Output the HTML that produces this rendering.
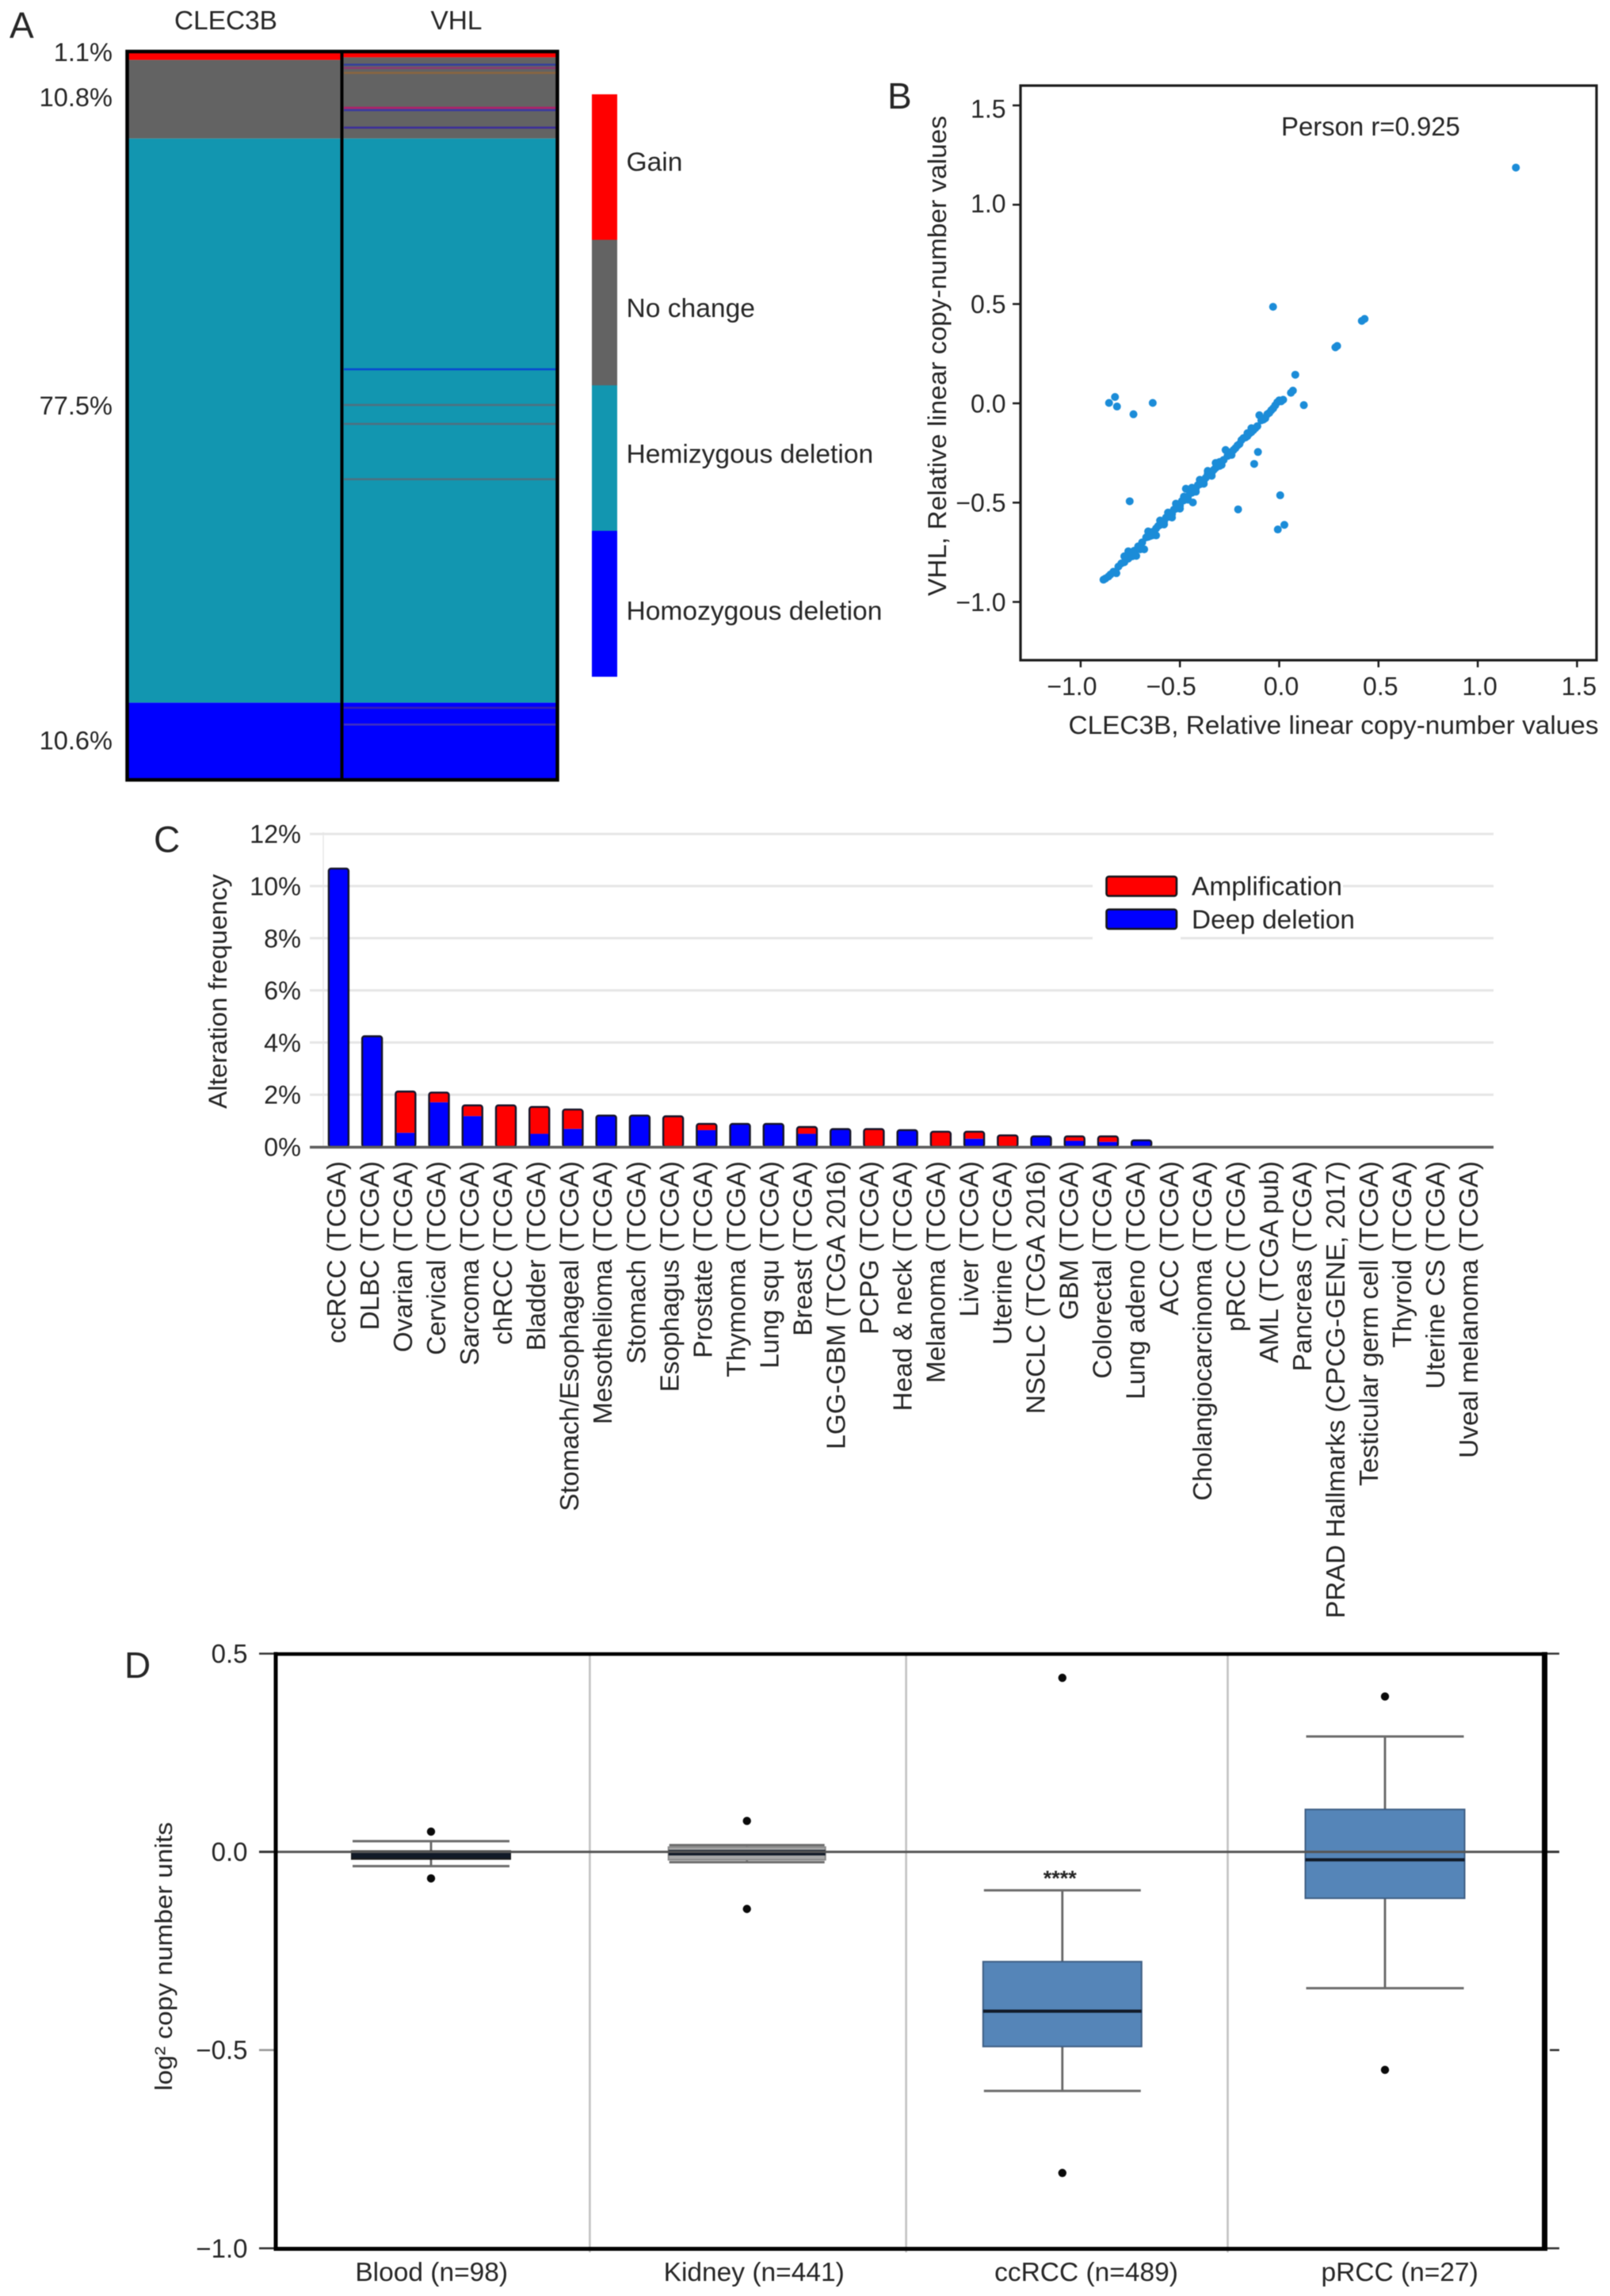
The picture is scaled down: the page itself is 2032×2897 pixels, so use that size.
<!DOCTYPE html>
<html lang="en">
<head>
<meta charset="utf-8">
<title>CLEC3B and VHL copy-number figure</title>
<style>
html,body{margin:0;padding:0;background:#fff;}
svg{display:block;filter:blur(0.6px);}
text{font-family:"Liberation Sans",Arial,sans-serif;fill:#262626;}
</style>
</head>
<body>
<svg id="figure" xmlns="http://www.w3.org/2000/svg" width="2032" height="2897" viewBox="0 0 2032 2897">
  <rect x="0" y="0" width="2032" height="2897" fill="#fff"/>
  <text x="12" y="48" font-size="46">A</text>
  <text x="1120" y="137" font-size="46">B</text>
  <text x="194" y="1075" font-size="46">C</text>
  <text x="157" y="2117" font-size="46">D</text>

  <g id="panel-a"></g>
  <g id="panel-b"></g>
  <g id="panel-c"></g>
  <g id="panel-d"></g>
</svg>

<script>
// ---------- Panel A data ----------
const stateLabels = ['Gain', 'No change', 'Hemizygous deletion', 'Homozygous deletion'];
const stateColors = ['#ff0000', '#636363', '#1296b0', '#0000ff'];
const clec3bPercent = [1.1, 10.8, 77.5, 10.6];
const vhlPercent = [0.75, 11.15, 77.5, 10.6];
const percentLabels = ['1.1%', '10.8%', '77.5%', '10.6%'];
const vhlDiscordantPercent = [1.76, 2.2, 2.88, 7.68, 8.0, 10.4, 43.6, 48.5, 51.1, 58.7, 90.1, 92.4];
const vhlDiscordantColors = ['#34409c', '#8a3a70', '#8a6540', '#b0206a', '#3a3aa0', '#3c2f9a', '#0a48d0', '#4f7080', '#4f7080', '#4f7080', '#3a20b0', '#4030c0'];

// ---------- Panel B data ----------
const xTicks = [-1.0, -0.5, 0.0, 0.5, 1.0, 1.5];
const yTicks = [-1.0, -0.5, 0.0, 0.5, 1.0, 1.5];
const clec3bValues = [-.885,-.875,-.86,-.85,-.835,-.82,-.81,-.795,-.78,-.77,-.76,-.745,-.73,-.72,-.71,-.70,-.69,-.68,-.67,-.66,-.65,-.64,-.63,-.62,-.61,-.60,-.59,-.58,-.57,-.56,-.55,-.54,-.53,-.52,-.51,-.50,-.49,-.48,-.47,-.46,-.45,-.44,-.43,-.42,-.41,-.40,-.39,-.38,-.37,-.36,-.35,-.34,-.33,-.32,-.31,-.30,-.29,-.28,-.27,-.26,-.25,-.24,-.23,-.22,-.21,-.20,-.19,-.18,-.17,-.16,-.15,-.14,-.13,-.12,-.11,-.10,-.09,-.08,-.07,-.06,-.05,-.04,-.03,-.02,-.01,0,.01,.02,
  -.66,-.64,-.62,-.60,-.58,-.56,-.54,-.52,-.50,-.48,-.46,-.44,-.42,-.40,-.38,-.36,-.34,-.32,-.30,-.26,-.24,-.16,-.14,-.74,-.76,-.78,
  1.192,-.031,.43,.416,.292,.283,.081,.069,.059,.124,-.857,-.827,-.817,-.734,-.637,-.107,-.126,-.753,-.435,-.207,.005,-.007,.026];
const vhlValues = [-.888,-.882,-.872,-.862,-.848,-.855,-.822,-.806,-.80,-.775,-.782,-.752,-.742,-.768,-.72,-.735,-.70,-.735,-.675,-.672,-.668,-.648,-.645,-.665,-.618,-.612,-.60,-.595,-.575,-.572,-.552,-.558,-.535,-.53,-.51,-.515,-.492,-.488,-.43,-.47,-.452,-.45,-.435,-.428,-.412,-.408,-.392,-.39,-.375,-.355,-.352,-.35,-.335,-.325,-.30,-.295,-.31,-.285,-.235,-.265,-.25,-.245,-.235,-.225,-.212,-.205,-.185,-.175,-.172,-.165,-.152,-.145,-.135,-.125,-.115,-.06,-.085,-.082,-.075,-.055,-.048,-.035,-.025,-.01,.005,.015,.01,.018,
  -.645,-.665,-.63,-.59,-.61,-.55,-.575,-.505,-.53,-.47,-.485,-.425,-.445,-.385,-.405,-.34,-.365,-.30,-.315,-.245,-.26,-.15,-.125,-.77,-.745,-.77,
  1.187,.486,.425,.415,.289,.282,.144,.064,.053,-.009,.002,.032,-.016,-.055,.002,-.245,-.305,-.493,-.499,-.534,-.463,-.635,-.612];

// ---------- Panel C data ----------
const cancerTypes = ['ccRCC (TCGA)','DLBC (TCGA)','Ovarian (TCGA)','Cervical (TCGA)','Sarcoma (TCGA)','chRCC (TCGA)','Bladder (TCGA)','Stomach/Esophageal (TCGA)','Mesothelioma (TCGA)','Stomach (TCGA)','Esophagus (TCGA)','Prostate (TCGA)','Thymoma (TCGA)','Lung squ (TCGA)','Breast (TCGA)','LGG-GBM (TCGA 2016)','PCPG (TCGA)','Head & neck (TCGA)','Melanoma (TCGA)','Liver (TCGA)','Uterine (TCGA)','NSCLC (TCGA 2016)','GBM (TCGA)','Colorectal (TCGA)','Lung adeno (TCGA)','ACC (TCGA)','Cholangiocarcinoma (TCGA)','pRCC (TCGA)','AML (TCGA pub)','Pancreas (TCGA)','PRAD Hallmarks (CPCG-GENE, 2017)','Testicular germ cell (TCGA)','Thyroid (TCGA)','Uterine CS (TCGA)','Uveal melanoma (TCGA)'];
const deepDeletion = [10.67,4.24,0.54,1.71,1.18,0,0.5,0.69,1.2,1.2,0,0.64,0.88,0.88,0.5,0.68,0,0.64,0,0.31,0,0.4,0.23,0.19,0.25,0,0,0,0,0,0,0,0,0,0];
const amplification = [0,0,1.58,0.37,0.41,1.59,1.03,0.74,0,0,1.17,0.24,0,0,0.26,0,0.68,0,0.58,0.27,0.44,0,0.17,0.21,0,0,0,0,0,0,0,0,0,0,0];
const frequencyTicks = [0, 2, 4, 6, 8, 10, 12];
const frequencyLegend = ['Amplification', 'Deep deletion'];

// ---------- Panel D data ----------
const boxCategories = ['Blood (n=98)', 'Kidney (n=441)', 'ccRCC (n=489)', 'pRCC (n=27)'];
const whiskerHigh = [0.027, 0.017, -0.097, 0.291];
const quartile3 = [0.002, 0.012, -0.277, 0.107];
const medians = [-0.008, -0.002, -0.402, -0.02];
const quartile1 = [-0.018, -0.02, -0.491, -0.117];
const whiskerLow = [-0.036, -0.026, -0.603, -0.344];
const outlierHigh = [0.051, 0.078, 0.439, 0.392];
const outlierLow = [-0.067, -0.144, -0.81, -0.55];
const boxTicks = [0.5, 0.0, -0.5, -1.0];
const significanceMarks = ['', '', '****', ''];

// ---------- Helpers ----------
const NS = 'http://www.w3.org/2000/svg';
function mk(parent, tag, attrs, content) {
  const el = document.createElementNS(NS, tag);
  for (const k in attrs) el.setAttribute(k, attrs[k]);
  if (content !== undefined) el.textContent = content;
  parent.appendChild(el);
  return el;
}
function fmtTick(v) {
  return (v < 0 ? '\u2212' : '') + Math.abs(v).toFixed(1);
}

// ---------- Panel A ----------
(function () {
  const g = document.getElementById('panel-a');
  const yA = p => 65.5 + p * 9.185;
  const columns = [
    { name: 'clec3b', label: 'CLEC3B', data: clec3bPercent, x0: 160, x1: 431, labelX: 285 },
    { name: 'vhl', label: 'VHL', data: vhlPercent, x0: 431, x1: 704, labelX: 576 }
  ];
  columns.forEach(col => {
    let cum = 0;
    col.data.forEach((v, i) => {
      const seg = mk(g, 'rect', { x: col.x0, y: yA(cum), width: col.x1 - col.x0, height: yA(cum + v) - yA(cum), fill: stateColors[i] });
      
      
      cum += v;
    });
    const head = mk(g, 'text', { x: col.labelX, y: 37, 'font-size': 33.4, 'text-anchor': 'middle' }, col.label);
    
    
  });
  vhlDiscordantPercent.forEach((p, i) => {
    const line = mk(g, 'rect', { x: 434, y: yA(p) - 1.3, width: 269, height: 2.6, fill: vhlDiscordantColors[i] });
    
    
  });
  const frame = mk(g, 'rect', { x: 160.5, y: 65, width: 543, height: 919, fill: 'none', stroke: '#000', 'stroke-width': 4.5 });
  
  
  const divider = mk(g, 'line', { x1: 431.5, x2: 431.5, y1: 65, y2: 984, stroke: '#000', 'stroke-width': 4 });
  
  

  const labelY = [65.7, 122.4, 511.5, 934];
  percentLabels.forEach((t, i) => {
    const lab = mk(g, 'text', { x: 142, y: labelY[i] + 11.5, 'font-size': 32.6, 'text-anchor': 'end' }, t);
    
    
  });

  const legH = 183.6;
  stateLabels.forEach((t, i) => {
    const sw = mk(g, 'rect', { x: 747, y: 119 + i * legH, width: 32, height: legH + 0.5, fill: stateColors[i] });
    
    
    const tx = mk(g, 'text', { x: 790.5, y: [215.5, 400, 584, 782][i], 'font-size': 33.6 }, t);
    
    
  });
})();

// ---------- Panel B ----------
(function () {
  const g = document.getElementById('panel-b');
  const xB = v => 1614.5 + 250.6 * v;
  const yB = v => 508.9 - 250.6 * v;
  const yLabelNudge = { '1.5': 4, '1': -2 };
  const box = mk(g, 'rect', { x: 1288, y: 108, width: 727, height: 725, fill: '#fff', stroke: '#1c1c1c', 'stroke-width': 3.2 });
  
  

  xTicks.forEach(v => {
    const t = mk(g, 'line', { x1: xB(v), x2: xB(v), y1: 833, y2: 842, stroke: '#1c1c1c', 'stroke-width': 2.5 });
    
    
    const lab = mk(g, 'text', { x: xB(v) + (v < 0 ? -11 : 2.5), y: 877, 'font-size': 32, 'text-anchor': 'middle' }, fmtTick(v));
    
    
  });
  yTicks.forEach(v => {
    const t = mk(g, 'line', { x1: 1278, x2: 1287, y1: yB(v), y2: yB(v), stroke: '#1c1c1c', 'stroke-width': 2.5 });
    
    
    const lab = mk(g, 'text', { x: 1269.5, y: yB(v) + 11.5 + (yLabelNudge[String(v)] || 0), 'font-size': 32, 'text-anchor': 'end' }, fmtTick(v));
    
    
  });
  clec3bValues.forEach((v, i) => {
    const c = mk(g, 'circle', { cx: xB(v), cy: yB(vhlValues[i]), r: 5, fill: '#1b8cd8' });
    
    
  });
  const xTitle = mk(g, 'text', { x: 1348.5, y: 926, 'font-size': 32, textLength: 669, lengthAdjust: 'spacingAndGlyphs' }, 'CLEC3B, Relative linear copy-number values');
  
  
  const yTitle = mk(g, 'text', { transform: 'translate(1194,752) rotate(-90)', x: 0, y: 0, 'font-size': 32, textLength: 606, lengthAdjust: 'spacingAndGlyphs' }, 'VHL, Relative linear copy-number values');
  
  
  const note = mk(g, 'text', { x: 1617, y: 171, 'font-size': 32.9 }, 'Person r=0.925');
  
  
})();

// ---------- Panel C ----------
(function () {
  const g = document.getElementById('panel-c');
  const xC = i => 427.4 + 42.22 * i;
  const labelX = i => 427 + 42.03 * i;
  const yC = v => 1447 - 32.9 * v;
  const axis = mk(g, 'line', { x1: 408, x2: 408, y1: 1050, y2: 1447, stroke: '#e8e8e8', 'stroke-width': 1.5 });
  
  
  frequencyTicks.forEach(v => {
    if (v > 0) {
      const grid = mk(g, 'line', { x1: 391, x2: 1885, y1: yC(v), y2: yC(v), stroke: '#e6e6e6', 'stroke-width': 3 });
      
      
    }
    const lab = mk(g, 'text', { x: 380, y: yC(v) + 11.5, 'font-size': 32.4, 'text-anchor': 'end' }, v + '%');
    
    
  });
  const legendMask = mk(g, 'rect', { x: 1379, y: 1100, width: 111, height: 92, fill: '#fff' });
  
  
  const textMask = mk(g, 'rect', { x: 1490, y: 1100, width: 205, height: 34, fill: '#fff' });
  
  

  const barW = 25;
  cancerTypes.forEach((name, i) => {
    const d = deepDeletion[i], a = amplification[i];
    const cx = xC(i);
    const del = mk(g, 'rect', { x: cx - barW / 2, y: yC(d), width: barW, height: yC(0) - yC(d), fill: '#0000ff' });
    
    
    const amp = mk(g, 'rect', { x: cx - barW / 2, y: yC(d + a), width: barW, height: yC(d) - yC(d + a), fill: '#ff0000' });
    
    
    if (d + a > 0) {
      const outline = mk(g, 'rect', { x: cx - barW / 2, y: yC(d + a), width: barW, height: yC(0) - yC(d + a), rx: 3, fill: 'none', stroke: '#15152a', 'stroke-width': 2.4 });
      
      
    }
    const lab = mk(g, 'text', { transform: 'translate(' + (labelX(i) + 9) + ',1465) rotate(-90)', x: 0, y: 0, 'font-size': 33.4, 'text-anchor': 'end' }, name);
    
    
  });
  const base = mk(g, 'line', { x1: 391, x2: 1885, y1: 1447.5, y2: 1447.5, stroke: '#5c5c5c', 'stroke-width': 3.6 });
  
  

  const title = mk(g, 'text', { transform: 'translate(286,1399) rotate(-90)', x: 0, y: 0, 'font-size': 32, textLength: 296, lengthAdjust: 'spacingAndGlyphs' }, 'Alteration frequency');
  
  

  frequencyLegend.forEach((t, i) => {
    const sw = mk(g, 'rect', { x: 1396.5, y: 1106 + i * 41.5, width: 88.5, height: 24.5, rx: 3, fill: i === 0 ? '#ff0000' : '#0000ff', stroke: '#15151a', 'stroke-width': 2.6 });
    
    
    const tx = mk(g, 'text', { x: 1504, y: 1129.5 + i * 42, 'font-size': 33, textLength: i === 0 ? 190 : 206, lengthAdjust: 'spacingAndGlyphs' }, t);
    
    
  });
})();

// ---------- Panel D ----------
(function () {
  const g = document.getElementById('panel-d');
  const yD = v => 2336.6 - 500.2 * v;
  const centers = [544, 942.7, 1340.8, 1748];
  const boxHalf = [100, 99, 100, 100.5];
  const labelCenters = [544.7, 951.7, 1371, 1766.6];
  const boxFills = ['#1c1c1c', '#a8a8a8', '#5585b8', '#5585b8'];
  const boxEdges = ['#1c1c1c', '#8a8a8a', '#3f5f85', '#3f5f85'];
  const medianWidth = [8, 7, 4, 4];

  [744.4, 1143.6, 1549.5].forEach(x => {
    const d = mk(g, 'line', { x1: x, x2: x, y1: 2087, y2: 2842, stroke: '#c2c2c2', 'stroke-width': 2.6 });
    
    
  });

  boxCategories.forEach((name, i) => {
    const cx = centers[i], hw = boxHalf[i];
    const stem = mk(g, 'line', { x1: cx, x2: cx, y1: yD(whiskerHigh[i]), y2: yD(whiskerLow[i]), stroke: '#666', 'stroke-width': 2.8 });
    
    
    [whiskerHigh[i], whiskerLow[i]].forEach(v => {
      const cap = mk(g, 'line', { x1: cx - hw + 1, x2: cx + hw - 1, y1: yD(v), y2: yD(v), stroke: '#6c6c6c', 'stroke-width': 3 });
      
      
    });
    const box = mk(g, 'rect', { x: cx - hw, y: yD(quartile3[i]), width: 2 * hw, height: yD(quartile1[i]) - yD(quartile3[i]), fill: boxFills[i], stroke: boxEdges[i], 'stroke-width': 2 });
    
    
    const med = mk(g, 'line', { x1: cx - hw, x2: cx + hw, y1: yD(medians[i]), y2: yD(medians[i]), stroke: '#111a28', 'stroke-width': medianWidth[i] });
    
    
    [outlierHigh[i], outlierLow[i]].forEach(v => {
      const o = mk(g, 'circle', { cx: cx, cy: yD(v), r: 5.2, fill: '#0a0a0a' });
      
      
    });
    const lab = mk(g, 'text', { x: labelCenters[i], y: 2878, 'font-size': 33.5, 'text-anchor': 'middle' }, name);
    
    
    if (significanceMarks[i]) {
      const sig = mk(g, 'text', { x: cx - 3, y: 2379, 'font-size': 27, 'text-anchor': 'middle', 'font-weight': 'bold' }, significanceMarks[i]);
      
      
    }
  });

  const zero = mk(g, 'line', { x1: 327, x2: 1968, y1: yD(0), y2: yD(0), stroke: '#555', 'stroke-width': 3 });
  
  

  boxTicks.forEach(v => {
    const t = mk(g, 'line', { x1: 327, x2: 348, y1: yD(v), y2: yD(v), stroke: v === -0.5 ? '#999' : '#333', 'stroke-width': 2.6 });
    
    
    const r = mk(g, 'line', { x1: v === -0.5 ? 1956 : 1951, x2: 1968, y1: yD(v), y2: yD(v), stroke: '#333', 'stroke-width': 2.6 });
    
    
    const lab = mk(g, 'text', { x: 312.5, y: yD(v) + 11.5, 'font-size': 33, 'text-anchor': 'end' }, fmtTick(v));
    
    
  });

  const frameL = mk(g, 'line', { x1: 348, x2: 348, y1: 2084.5, y2: 2839.5, stroke: '#000', 'stroke-width': 5 });
  
  
  const frameT = mk(g, 'line', { x1: 345.5, x2: 1953, y1: 2087, y2: 2087, stroke: '#000', 'stroke-width': 4.5 });
  
  
  const frameB = mk(g, 'line', { x1: 345.5, x2: 1953, y1: 2837.5, y2: 2837.5, stroke: '#000', 'stroke-width': 5 });
  
  
  const frameR = mk(g, 'line', { x1: 1949.5, x2: 1949.5, y1: 2084.5, y2: 2840, stroke: '#000', 'stroke-width': 7 });
  
  

  const title = mk(g, 'text', { transform: 'translate(217,2638) rotate(-90)', x: 0, y: 0, 'font-size': 31, textLength: 339, lengthAdjust: 'spacingAndGlyphs' }, 'log\u00b2 copy number units');
  
  
})();
</script>
</body>
</html>
